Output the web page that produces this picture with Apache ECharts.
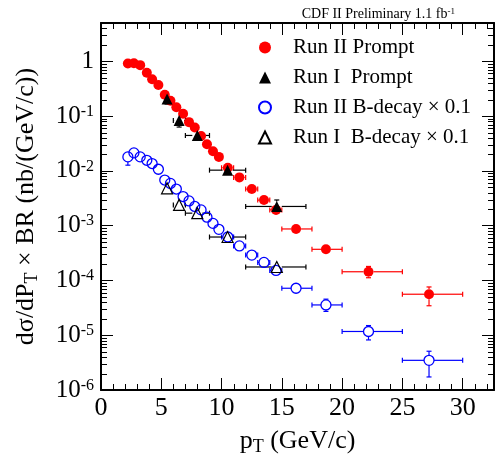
<!DOCTYPE html>
<html>
<head>
<meta charset="utf-8">
<script src="https://cdn.jsdelivr.net/npm/echarts@6/dist/echarts.min.js"></script>
<style>
html, body { margin: 0; padding: 0; background: #fff; }
#main { width: 501px; height: 461px; }
</style>
</head>
<body>
<div id="main"></div>
<script>
// Run II bins: mean pT and bin edges (shared by prompt and B-decay)
const run2Pt   = [2.23, 2.73, 3.25, 3.80, 4.24, 4.76, 5.29, 5.76, 6.25, 6.81, 7.30, 7.78, 8.30, 8.79, 9.29, 9.78, 10.52, 11.48, 12.51, 13.52, 14.52, 16.18, 18.66, 22.19, 27.21]
const run2PtLo = [2.0, 2.5, 3.0, 3.5, 4.0, 4.5, 5.0, 5.5, 6.0, 6.5, 7.0, 7.5, 8.0, 8.5, 9.0, 9.5, 10, 11, 12, 13, 14, 15, 17.5, 20, 25]
const run2PtHi = [2.5, 3.0, 3.5, 4.0, 4.5, 5.0, 5.5, 6.0, 6.5, 7.0, 7.5, 8.0, 8.5, 9.0, 9.5, 10, 11, 12, 13, 14, 15, 17.5, 20, 25, 30]

const promptRun2   = [0.91, 0.92, 0.85, 0.62, 0.47, 0.37, 0.245, 0.191, 0.145, 0.110, 0.0775, 0.062, 0.0433, 0.0305, 0.0228, 0.018, 0.0114, 0.0076, 0.00466, 0.00293, 0.00194, 0.00087, 0.00037, 0.000144, 0.000056]
const promptRun2Lo = [0.88, 0.89, 0.82, 0.60, 0.45, 0.355, 0.235, 0.183, 0.139, 0.105, 0.074, 0.059, 0.0413, 0.0290, 0.0216, 0.0170, 0.0107, 0.0071, 0.00434, 0.00271, 0.00178, 0.00080, 0.00030, 0.000112, 0.0000345]
const promptRun2Hi = [0.94, 0.95, 0.88, 0.64, 0.49, 0.385, 0.255, 0.199, 0.151, 0.115, 0.081, 0.065, 0.0453, 0.0320, 0.0240, 0.0190, 0.0121, 0.0081, 0.00498, 0.00315, 0.00210, 0.00094, 0.00045, 0.000180, 0.000076]

const bRun2   = [0.0180, 0.0213, 0.0180, 0.0156, 0.0136, 0.0107, 0.0068, 0.0059, 0.00466, 0.0034, 0.00283, 0.00224, 0.00194, 0.00143, 0.0011, 0.000857, 0.00062, 0.000427, 0.00029, 0.000213, 0.000152, 0.000072, 0.0000357, 0.0000117, 0.00000348]
const bRun2Lo = [0.0127, 0.0196, 0.0166, 0.0144, 0.0125, 0.0098, 0.0063, 0.0054, 0.0043, 0.0031, 0.0026, 0.00206, 0.00178, 0.00132, 0.00101, 0.00079, 0.00057, 0.00039, 0.000266, 0.000195, 0.000139, 0.000064, 0.0000272, 0.0000082, 0.00000173]
const bRun2Hi = [0.0210, 0.0230, 0.0194, 0.0168, 0.0147, 0.0116, 0.0073, 0.0064, 0.0050, 0.0037, 0.0031, 0.00242, 0.00210, 0.00154, 0.00119, 0.00093, 0.00067, 0.00046, 0.000314, 0.000231, 0.000165, 0.000081, 0.0000455, 0.0000150, 0.0000051]

// Run I bins
const run1Pt   = [5.48, 6.48, 7.99, 10.50, 14.58]
const run1PtLo = [5.15, 6.0, 7.0, 9.0, 12.0]
const run1PtHi = [5.85, 7.0, 9.0, 12.0, 17.0]

const promptRun1   = [0.205, 0.083, 0.0443, 0.0103, 0.00224]
const promptRun1Lo = [0.166, 0.063, 0.0375, 0.0084, 0.00182]
const promptRun1Hi = [0.235, 0.102, 0.051, 0.0127, 0.00294]

const bRun1   = [0.0048, 0.00239, 0.00169, 0.00062, 0.000176]
const bRun1Lo = [0.0042, 0.0020, 0.0015, 0.00052, 0.00015]
const bRun1Hi = [0.0055, 0.0028, 0.0019, 0.00072, 0.000205]

const xTicks = [0, 5, 10, 15, 20, 25, 30]
const X_MIN = 0
const X_MAX = 32.6
const Y_MIN = 1e-6
const Y_MAX = 5

const FONT = 'Liberation Serif'

function rows (x, xlo, xhi, y, ylo, yhi) {
  return x.map((v, i) => [v, y[i], xlo[i], xhi[i], ylo[i], yhi[i]])
}

// minor ticks: 1 GeV steps on x, 2..9 x 10^n on the log axis
const xMinor = []
for (let v = 1; v < X_MAX; v++) if (v % 5 !== 0) xMinor.push(v)
const yMinor = []
for (let e = -6; e <= 0; e++) {
  for (let m = 2; m <= 9; m++) {
    const v = m * Math.pow(10, e)
    if (v < Y_MAX) yMinor.push(v)
  }
}

function errorBars (color, r) {
  return function (params, api) {
    const x = api.value(0)
    const y = api.value(1)
    const c = api.coord([x, y])
    const l = api.coord([api.value(2), y])
    const h = api.coord([api.value(3), y])
    const b = api.coord([x, api.value(4)])
    const t = api.coord([x, api.value(5)])
    const style = { stroke: color, lineWidth: 1.2 }
    const parts = []
    const seg = (x1, y1, x2, y2) => parts.push({ type: 'line', shape: { x1, y1, x2, y2 }, style })
    if (c[0] - l[0] > r) { seg(l[0], c[1], c[0] - r, c[1]); seg(l[0], c[1] - 2.5, l[0], c[1] + 2.5) }
    if (h[0] - c[0] > r) { seg(c[0] + r, c[1], h[0], c[1]); seg(h[0], c[1] - 2.5, h[0], c[1] + 2.5) }
    if (b[1] - c[1] > r) { seg(c[0], c[1] + r, c[0], b[1]); seg(c[0] - 2.5, b[1], c[0] + 2.5, b[1]) }
    if (c[1] - t[1] > r) { seg(c[0], t[1], c[0], c[1] - r); seg(c[0] - 2.5, t[1], c[0] + 2.5, t[1]) }
    return { type: 'group', children: parts }
  }
}

function minorX (params, api) {
  const v = api.value(0)
  const b = api.coord([v, Y_MIN])
  const t = api.coord([v, Y_MAX])
  const x = Math.round(b[0]) + 0.5
  const style = { stroke: '#000', lineWidth: 1 }
  return { type: 'group', children: [
    { type: 'line', shape: { x1: x, y1: b[1], x2: x, y2: b[1] - 6 }, style },
    { type: 'line', shape: { x1: x, y1: t[1], x2: x, y2: t[1] + 6 }, style }
  ] }
}

function minorY (params, api) {
  const v = api.value(1)
  const l = api.coord([X_MIN, v])
  const r = api.coord([X_MAX, v])
  const y = Math.round(l[1]) + 0.5
  const style = { stroke: '#000', lineWidth: 1 }
  return { type: 'group', children: [
    { type: 'line', shape: { x1: l[0], y1: y, x2: l[0] + 6, y2: y }, style },
    { type: 'line', shape: { x1: r[0], y1: y, x2: r[0] - 6, y2: y }, style }
  ] }
}

function decadeLabel (v) {
  const lg = Math.log10(v)
  const e = Math.round(lg)
  if (Math.abs(lg - e) > 1e-6) return ''
  return e === 0 ? '1' : '10{sup|' + e + '}'
}

const axisLine = { show: true, onZero: false, lineStyle: { color: '#000', width: 2 } }
const axisTick = { show: true, inside: true, length: 12, lineStyle: { color: '#000', width: 1 } }
const subStyle = { fontFamily: FONT, fontSize: 18, verticalAlign: 'bottom', padding: [12, 0, 0, 0], color: '#000' }

const chart = echarts.init(document.getElementById('main'))
chart.setOption({
  animation: false,
  backgroundColor: '#fff',
  title: {
    text: 'CDF II Preliminary 1.1 fb{sup|-1}',
    right: 41,
    top: 2,
    textStyle: {
      fontFamily: FONT, fontSize: 14, fontWeight: 'normal', color: '#000',
      rich: { sup: { fontFamily: FONT, fontSize: 9, verticalAlign: 'top', color: '#000' } }
    }
  },
  grid: { left: 101, right: 7, top: 23, bottom: 68 },
  legend: {
    orient: 'vertical',
    left: 258,
    top: 37,
    padding: 0,
    itemGap: 9,
    itemWidth: 12,
    itemHeight: 12,
    selectedMode: false,
    data: ['Run II Prompt', 'Run I  Prompt', 'Run II B-decay × 0.1', 'Run I  B-decay × 0.1'],
    textStyle: { fontFamily: FONT, fontSize: 21, color: '#000', lineHeight: 21, padding: [0, 0, 0, 17] }
  },
  xAxis: [
    {
      type: 'value', position: 'bottom', min: X_MIN, max: X_MAX, interval: 5,
      axisLine, axisTick,
      splitLine: { show: false },
      axisLabel: {
        margin: 5, fontFamily: FONT, fontSize: 26, color: '#000',
        formatter: v => (xTicks.indexOf(v) >= 0 ? String(v) : '')
      },
      name: 'p{sub|T} (GeV/c)',
      nameLocation: 'middle',
      nameGap: 36,
      nameTextStyle: { fontFamily: FONT, fontSize: 26, color: '#000', rich: { sub: subStyle } }
    },
    {
      type: 'value', position: 'top', min: X_MIN, max: X_MAX, interval: 5,
      axisLine, axisTick,
      splitLine: { show: false },
      axisLabel: { show: false }
    }
  ],
  yAxis: [
    {
      type: 'log', logBase: 10, position: 'left', min: Y_MIN, max: Y_MAX,
      axisLine, axisTick,
      splitLine: { show: false },
      axisLabel: {
        margin: 7, fontFamily: FONT, fontSize: 25, color: '#000',
        formatter: decadeLabel,
        rich: { sup: { fontFamily: FONT, fontSize: 16, verticalAlign: 'top', color: '#000' } }
      },
      name: 'dσ/dP{sub|T} × BR (nb/(GeV/c))',
      nameLocation: 'middle',
      nameRotate: 90,
      nameGap: 60,
      nameTextStyle: { fontFamily: FONT, fontSize: 26, color: '#000', rich: { sub: subStyle } }
    },
    {
      type: 'log', logBase: 10, position: 'right', min: Y_MIN, max: Y_MAX,
      axisLine, axisTick,
      splitLine: { show: false },
      axisLabel: { show: false }
    }
  ],
  series: [
    {
      type: 'custom', renderItem: minorX, silent: true,
      data: xMinor.map(v => [v, Y_MIN]), encode: { x: 0, y: 1 }
    },
    {
      type: 'custom', renderItem: minorY, silent: true,
      data: yMinor.map(v => [X_MIN, v]), encode: { x: 0, y: 1 }
    },
    {
      type: 'custom', renderItem: errorBars('#ff0000', 5), silent: true,
      data: rows(run2Pt, run2PtLo, run2PtHi, promptRun2, promptRun2Lo, promptRun2Hi), encode: { x: 0, y: 1 }
    },
    {
      name: 'Run II Prompt', type: 'scatter', symbol: 'circle', symbolSize: 10,
      itemStyle: { color: '#ff0000', opacity: 1 },
      data: rows(run2Pt, run2PtLo, run2PtHi, promptRun2, promptRun2Lo, promptRun2Hi), encode: { x: 0, y: 1 }
    },
    {
      type: 'custom', renderItem: errorBars('#0000ff', 5), silent: true,
      data: rows(run2Pt, run2PtLo, run2PtHi, bRun2, bRun2Lo, bRun2Hi), encode: { x: 0, y: 1 }
    },
    {
      name: 'Run II B-decay × 0.1', type: 'scatter', symbol: 'circle', symbolSize: 10,
      itemStyle: { color: 'rgba(0,0,0,0)', borderColor: '#0000ff', borderWidth: 1.3, opacity: 1 },
      data: rows(run2Pt, run2PtLo, run2PtHi, bRun2, bRun2Lo, bRun2Hi), encode: { x: 0, y: 1 }
    },
    {
      type: 'custom', renderItem: errorBars('#000', 5), silent: true,
      data: rows(run1Pt, run1PtLo, run1PtHi, promptRun1, promptRun1Lo, promptRun1Hi), encode: { x: 0, y: 1 }
    },
    {
      name: 'Run I  Prompt', type: 'scatter', symbol: 'triangle', symbolSize: 11,
      itemStyle: { color: '#000', opacity: 1 },
      data: rows(run1Pt, run1PtLo, run1PtHi, promptRun1, promptRun1Lo, promptRun1Hi), encode: { x: 0, y: 1 }
    },
    {
      type: 'custom', renderItem: errorBars('#000', 5), silent: true,
      data: rows(run1Pt, run1PtLo, run1PtHi, bRun1, bRun1Lo, bRun1Hi), encode: { x: 0, y: 1 }
    },
    {
      name: 'Run I  B-decay × 0.1', type: 'scatter', symbol: 'triangle', symbolSize: 11,
      itemStyle: { color: 'rgba(0,0,0,0)', borderColor: '#000', borderWidth: 1.2, opacity: 1 },
      data: rows(run1Pt, run1PtLo, run1PtHi, bRun1, bRun1Lo, bRun1Hi), encode: { x: 0, y: 1 }
    }
  ]
})
</script>
</body>
</html>
